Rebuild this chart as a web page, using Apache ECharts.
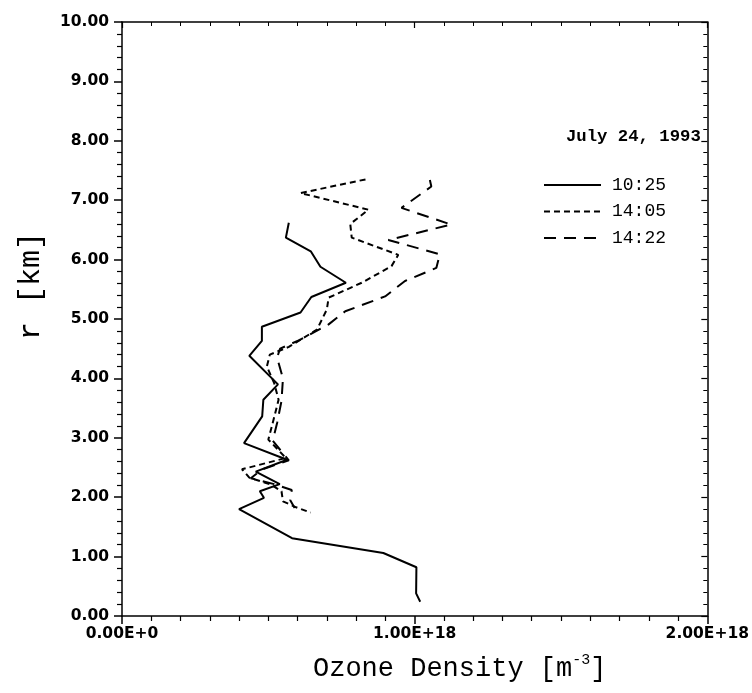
<!DOCTYPE html>
<html>
<head>
<meta charset="utf-8">
<script src="https://cdn.jsdelivr.net/npm/echarts@6/dist/echarts.min.js"></script>
<style>
html,body{margin:0;padding:0;background:#fff;}
#chart{width:752px;height:693px;}
</style>
</head>
<body>
<div id="chart"></div>
<script>
// ---- data (ozone density in m^-3, altitude r in km) ----
const seriesNames = ['10:25', '14:05', '14:22'];

const t1025_x = [5.70e17, 5.60e17, 6.45e17, 6.78e17, 7.65e17, 6.47e17, 6.10e17, 4.78e17, 4.78e17, 4.35e17, 5.33e17, 4.83e17, 4.79e17, 4.17e17, 5.64e17, 4.57e17, 5.39e17, 4.71e17, 4.85e17, 4.00e17, 5.81e17, 8.93e17, 10.06e17, 10.05e17, 10.19e17];
const t1025_r = [6.62, 6.37, 6.14, 5.88, 5.61, 5.37, 5.11, 4.87, 4.63, 4.38, 3.90, 3.64, 3.36, 2.91, 2.63, 2.43, 2.22, 2.10, 1.99, 1.80, 1.31, 1.06, 0.82, 0.38, 0.24];

const t1405_x = [8.32e17, 6.10e17, 8.42e17, 7.80e17, 7.85e17, 9.44e17, 9.21e17, 8.19e17, 7.06e17, 7.00e17, 6.66e17, 5.70e17, 5.05e17, 4.95e17, 5.20e17, 5.35e17, 5.15e17, 5.00e17, 5.60e17, 4.10e17, 4.35e17, 5.10e17, 5.45e17, 5.50e17, 5.95e17, 6.45e17];
const t1405_r = [7.35, 7.12, 6.84, 6.60, 6.37, 6.08, 5.89, 5.61, 5.36, 5.16, 4.82, 4.53, 4.40, 4.20, 3.92, 3.64, 3.25, 2.97, 2.66, 2.47, 2.33, 2.21, 2.10, 1.93, 1.83, 1.74];

const t1422_x = [10.52e17, 10.57e17, 9.55e17, 11.25e17, 9.10e17, 10.86e17, 10.74e17, 9.67e17, 8.99e17, 7.63e17, 7.06e17, 6.04e17, 5.40e17, 5.30e17, 5.50e17, 5.45e17, 5.30e17, 5.15e17, 5.70e17, 4.80e17, 4.40e17, 5.20e17, 5.80e17, 5.75e17, 5.90e17];
const t1422_r = [7.34, 7.23, 6.87, 6.59, 6.33, 6.09, 5.86, 5.64, 5.38, 5.13, 4.91, 4.64, 4.50, 4.35, 4.00, 3.62, 3.25, 2.95, 2.62, 2.47, 2.32, 2.22, 2.12, 1.95, 1.82];

const xTickValues = [0, 1e18, 2e18];
const xTickLabels = ['0.00E+0', '1.00E+18', '2.00E+18'];

const titleText = 'July 24, 1993';
const xAxisTitle = 'Ozone Density [m';
const yAxisTitle = 'r [km]';

// ---- build ----
function zip(xs, ys) { return xs.map((x, i) => [x, ys[i]]); }

const chart = echarts.init(document.getElementById('chart'), null, {renderer: 'canvas'});

const axisLineStyle = {color: '#000', width: 1.5};
const labelFont = {color: '#000', fontFamily: 'DejaVu Sans', fontWeight: 'bold', fontSize: 15.5};

const option = {
  backgroundColor: '#fff',
  animation: false,
  grid: {left: 122, right: 41, top: 22, bottom: 77},
  legend: {
    show: true,
    data: seriesNames,
    orient: 'vertical',
    left: 543, top: 176, padding: 0,
    itemWidth: 57, itemHeight: 14, itemGap: 8.5,
    itemStyle: {opacity: 0, borderWidth: 0},
    textStyle: {color: '#000', fontFamily: 'Liberation Mono', fontSize: 18, lineHeight: 14, padding: [0, 0, 0, 6]},
    selectedMode: false
  },
  xAxis: [
    {
      type: 'value', position: 'bottom', min: 0, max: 2e18, interval: 1e18,
      axisLine: {show: true, onZero: false, lineStyle: axisLineStyle},
      axisTick: {show: true, inside: false, length: 8, lineStyle: {color: '#000', width: 1.5}},
      minorTick: {show: true, splitNumber: 10, length: 5, lineStyle: {color: '#000', width: 1.2}},
      splitLine: {show: false}, minorSplitLine: {show: false},
      axisLabel: Object.assign({margin: 10, formatter: function (v) {
        const i = xTickValues.indexOf(v); return i >= 0 ? xTickLabels[i] : '';
      }}, labelFont)
    },
    {
      type: 'value', position: 'top', min: 0, max: 2e18, interval: 1e18,
      axisLine: {show: true, onZero: false, lineStyle: axisLineStyle},
      axisTick: {show: true, inside: true, length: 6, lineStyle: {color: '#000', width: 1.2}},
      minorTick: {show: true, splitNumber: 10, length: 4, lineStyle: {color: '#000', width: 1}},
      splitLine: {show: false}, axisLabel: {show: false}
    }
  ],
  yAxis: [
    {
      type: 'value', position: 'left', min: 0, max: 10, interval: 1,
      axisLine: {show: true, onZero: false, lineStyle: axisLineStyle},
      axisTick: {show: true, inside: false, length: 8, lineStyle: {color: '#000', width: 1.5}},
      minorTick: {show: true, splitNumber: 5, length: 5, lineStyle: {color: '#000', width: 1.2}},
      splitLine: {show: false}, minorSplitLine: {show: false},
      axisLabel: Object.assign({margin: 13, formatter: function (v) { return v.toFixed(2); }}, labelFont)
    },
    {
      type: 'value', position: 'right', min: 0, max: 10, interval: 1,
      axisLine: {show: true, onZero: false, lineStyle: axisLineStyle},
      axisTick: {show: true, inside: true, length: 6, lineStyle: {color: '#000', width: 1.2}},
      minorTick: {show: true, splitNumber: 5, length: 4, lineStyle: {color: '#000', width: 1}},
      splitLine: {show: false}, axisLabel: {show: false}
    }
  ],
  series: [
    {
      name: seriesNames[0], type: 'line', data: zip(t1025_x, t1025_r),
      symbol: 'none', showSymbol: false, color: '#000',
      lineStyle: {color: '#000', width: 2, type: 'solid'}
    },
    {
      name: seriesNames[1], type: 'line', data: zip(t1405_x, t1405_r),
      symbol: 'none', showSymbol: false, color: '#000',
      lineStyle: {color: '#000', width: 2, type: [6, 4]}
    },
    {
      name: seriesNames[2], type: 'line', data: zip(t1422_x, t1422_r),
      symbol: 'none', showSymbol: false, color: '#000',
      lineStyle: {color: '#000', width: 2, type: [12, 8]}
    }
  ],
  graphic: [
    {
      type: 'text', left: 566, top: 128,
      style: {text: titleText, fill: '#000', font: 'bold 17.3px "Liberation Mono"'}
    },
    {
      type: 'text', x: 313, y: 653,
      style: {
        text: '{t|' + xAxisTitle + '}{s|-3}{t|]}',
        rich: {
          t: {fontFamily: 'Liberation Mono', fontSize: 27, fill: '#000', color: '#000', verticalAlign: 'bottom'},
          s: {fontFamily: 'Liberation Mono', fontSize: 15, fill: '#000', color: '#000', verticalAlign: 'top', padding: [0, 0, 14, 0]}
        }
      }
    },
    {
      type: 'text', x: 16, y: 340, rotation: Math.PI / 2,
      style: {text: yAxisTitle, fill: '#000', font: '30px "Liberation Mono"'}
    }
  ]
};

chart.setOption(option);
</script>
</body>
</html>
